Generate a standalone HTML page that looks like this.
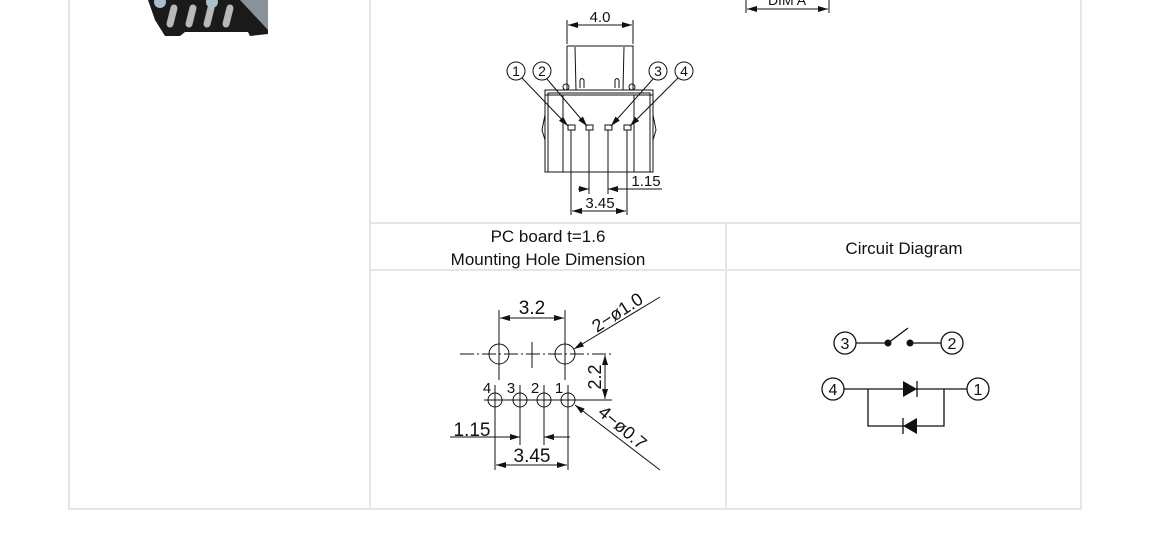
<!DOCTYPE html>
<html><head><meta charset="utf-8"><style>
html,body{margin:0;padding:0;background:#fff;width:1150px;height:539px;overflow:hidden}
svg text{font-family:"Liberation Sans",sans-serif;fill:#111}
</style></head><body>
<svg width="1150" height="539" viewBox="0 0 1150 539" xmlns="http://www.w3.org/2000/svg">
<defs>
<marker id="a" viewBox="0 0 10 6" refX="10" refY="3" markerWidth="10" markerHeight="6" orient="auto-start-reverse" markerUnits="userSpaceOnUse"><path d="M0,0L10,3L0,6z" fill="#111"/></marker>
</defs>
<g stroke="#e6e6e6" stroke-width="2" fill="none">
<line x1="69" y1="0" x2="69" y2="510"/>
<line x1="1081" y1="0" x2="1081" y2="510"/>
<line x1="68" y1="509" x2="1082" y2="509"/>
<line x1="370" y1="0" x2="370" y2="510"/>
<line x1="726" y1="223" x2="726" y2="510"/>
<line x1="370" y1="223" x2="1082" y2="223"/>
<line x1="370" y1="270" x2="1082" y2="270"/>
</g>
<!-- photo fragment -->
<path d="M148,0 L268,0 L268,34 L250,36 L248,32 L185,32 L180,36 L165,36 L155,20 Z" fill="#1a1a1a"/>
<path d="M240,0 L268,0 L268,30 Z" fill="#8a9299"/>
<g stroke="#b8b8b8" stroke-width="7" stroke-linecap="round">
<line x1="174" y1="8" x2="170" y2="24"/><line x1="193" y1="8" x2="189" y2="24"/><line x1="211" y1="8" x2="207" y2="24"/><line x1="230" y1="8" x2="226" y2="24"/>
</g>
<circle cx="160" cy="2" r="6" fill="#a9bfcc"/><circle cx="212" cy="2" r="6" fill="#a9bfcc"/>
<!-- DIM A -->
<g stroke="#111" stroke-width="1" fill="none">
<line x1="746" y1="0" x2="746" y2="13"/><line x1="829" y1="0" x2="829" y2="13"/>
<line x1="747" y1="9" x2="828" y2="9" marker-start="url(#a)" marker-end="url(#a)"/>
</g>
<text x="787" y="5" font-size="14" text-anchor="middle">DIM  A</text>
<!-- top drawing -->
<g stroke="#111" stroke-width="1" fill="none">
<line x1="567" y1="20" x2="567" y2="44"/><line x1="633" y1="20" x2="633" y2="44"/>
<line x1="568" y1="25" x2="632" y2="25" marker-start="url(#a)" marker-end="url(#a)"/>
<path d="M567,46 L633,46 L633,90 M567,46 L567,90"/>
<line x1="575" y1="47" x2="576" y2="90"/><line x1="624" y1="47" x2="623" y2="90"/>
<path d="M580,88 L580,80 Q582,77 584,80 L584,88 M615,88 L615,80 Q617,77 619,80 L619,88"/>
<rect x="545" y="90" width="108" height="82"/>
<rect x="548" y="93" width="102" height="79"/>
<line x1="545" y1="95" x2="653" y2="95"/>
<circle cx="566" cy="87" r="3"/><circle cx="632" cy="87" r="3"/>
<line x1="563" y1="95" x2="563" y2="172"/><line x1="634" y1="95" x2="634" y2="172"/>
<path d="M545,115 L542,130 L545,140 M653,115 L656,130 L653,140"/>
<rect x="568" y="125" width="7" height="5"/><rect x="586" y="125" width="7" height="5"/><rect x="605" y="125" width="7" height="5"/><rect x="624" y="125" width="7" height="5"/>
<line x1="571" y1="130" x2="571" y2="215"/><line x1="589" y1="130" x2="589" y2="194"/><line x1="608" y1="130" x2="608" y2="194"/><line x1="627" y1="130" x2="627" y2="215"/>
<circle cx="516" cy="71" r="9"/><circle cx="542" cy="71" r="9"/><circle cx="658" cy="71" r="9"/><circle cx="684" cy="71" r="9"/>
<line x1="522" y1="78" x2="568" y2="126" marker-end="url(#a)"/>
<line x1="547" y1="79" x2="587" y2="126" marker-end="url(#a)"/>
<line x1="653" y1="79" x2="611" y2="126" marker-end="url(#a)"/>
<line x1="678" y1="78" x2="630" y2="126" marker-end="url(#a)"/>
<line x1="578" y1="189" x2="589" y2="189" marker-end="url(#a)"/>
<line x1="662" y1="189" x2="608" y2="189" marker-end="url(#a)"/>
<line x1="572" y1="211" x2="626" y2="211" marker-start="url(#a)" marker-end="url(#a)"/>
</g>
<text x="600" y="22" font-size="15" text-anchor="middle">4.0</text>
<g font-size="14" text-anchor="middle">
<text x="516" y="76">1</text><text x="542" y="76">2</text><text x="658" y="76">3</text><text x="684" y="76">4</text></g>
<text x="646" y="186" font-size="15" text-anchor="middle">1.15</text>
<text x="600" y="208" font-size="15" text-anchor="middle">3.45</text>
<!-- headers -->
<text x="548" y="242" font-size="17" text-anchor="middle">PC board t=1.6</text>
<text x="548" y="265" font-size="17" text-anchor="middle">Mounting Hole Dimension</text>
<text x="904" y="254" font-size="17" text-anchor="middle">Circuit Diagram</text>
<!-- mounting -->
<g stroke="#111" stroke-width="1" fill="none">
<line x1="499" y1="310" x2="499" y2="380"/><line x1="565" y1="310" x2="565" y2="380"/>
<line x1="500" y1="318" x2="564" y2="318" marker-start="url(#a)" marker-end="url(#a)"/>
<circle cx="499" cy="354" r="10"/><circle cx="565" cy="354" r="10"/>
<line x1="460" y1="354" x2="612" y2="354" stroke-dasharray="14,3,2,3"/>
<line x1="532" y1="342" x2="532" y2="368"/>
<circle cx="495" cy="400" r="7"/><circle cx="520" cy="400" r="7"/><circle cx="544" cy="400" r="7"/><circle cx="568" cy="400" r="7"/>
<line x1="484" y1="400" x2="585" y2="400"/>
<line x1="495" y1="385" x2="495" y2="470"/><line x1="520" y1="385" x2="520" y2="445"/><line x1="544" y1="385" x2="544" y2="445"/><line x1="568" y1="385" x2="568" y2="470"/>
<line x1="585" y1="400" x2="612" y2="400"/>
<line x1="605" y1="355" x2="605" y2="399" marker-start="url(#a)" marker-end="url(#a)"/>
<line x1="660" y1="297" x2="574" y2="349" marker-end="url(#a)"/>
<line x1="660" y1="470" x2="575" y2="405" marker-end="url(#a)"/>
<line x1="450" y1="437" x2="520" y2="437" marker-end="url(#a)"/>
<line x1="570" y1="437" x2="544" y2="437" marker-end="url(#a)"/>
<line x1="496" y1="465" x2="567" y2="465" marker-start="url(#a)" marker-end="url(#a)"/>
</g>
<text x="532" y="314" font-size="19" text-anchor="middle">3.2</text>
<text transform="translate(597,333) rotate(-33)" font-size="18">2−ø1.0</text>
<text transform="translate(601,377) rotate(-90)" font-size="18" text-anchor="middle">2.2</text>
<text transform="translate(597,414) rotate(40)" font-size="18">4−ø0.7</text>
<g font-size="15" text-anchor="middle"><text x="487" y="393">4</text><text x="511" y="393">3</text><text x="535" y="393">2</text><text x="559" y="393">1</text></g>
<text x="472" y="436" font-size="19" text-anchor="middle">1.15</text>
<text x="532" y="462" font-size="19" text-anchor="middle">3.45</text>
<!-- circuit -->
<g stroke="#111" stroke-width="1.3" fill="none">
<circle cx="845" cy="343" r="11"/><circle cx="952" cy="343" r="11"/>
<circle cx="833" cy="389" r="11"/><circle cx="978" cy="389" r="11"/>
<line x1="856" y1="343" x2="888" y2="343"/><line x1="888" y1="343" x2="908" y2="328"/><line x1="910" y1="343" x2="941" y2="343"/>
<line x1="844" y1="389" x2="967" y2="389"/>
<path d="M868,389 L868,426 L944,426 L944,389"/>
<line x1="917" y1="381" x2="917" y2="397"/><line x1="903" y1="418" x2="903" y2="434"/>
</g>
<circle cx="888" cy="343" r="3.5" fill="#111"/><circle cx="910" cy="343" r="3.5" fill="#111"/>
<path d="M903,381 L917,389 L903,397 Z" fill="#111"/>
<path d="M917,418 L903,426 L917,434 Z" fill="#111"/>
<g font-size="16" text-anchor="middle"><text x="845" y="349">3</text><text x="952" y="349">2</text><text x="833" y="395">4</text><text x="978" y="395">1</text></g>
</svg>
</body></html>
